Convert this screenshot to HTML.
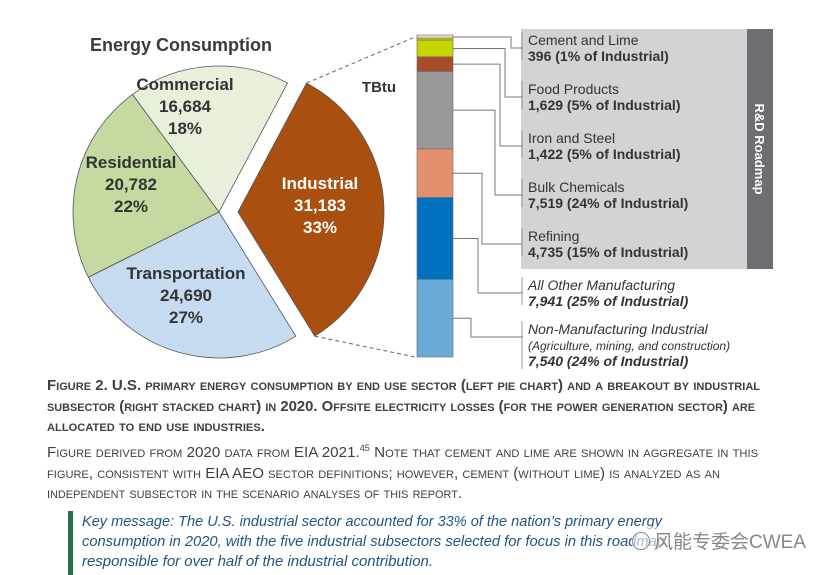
<!DOCTYPE html>
<html><head><meta charset="utf-8"><style>
html,body{margin:0;padding:0;background:#fff;width:834px;height:575px;overflow:hidden}
body{position:relative;font-family:"Liberation Sans",Arial,sans-serif}
.sc{font-variant:small-caps}
</style></head><body>
<svg id="chart" width="834" height="375" style="position:absolute;left:0;top:0" font-family="Liberation Sans, Arial, sans-serif"></svg>
<svg width="834" height="200" style="position:absolute;left:0;top:375px" font-family="Liberation Sans, Arial, sans-serif">
<g fill="#404040" font-size="15" font-weight="bold" class="sc">
<text x="47" y="15" textLength="713" lengthAdjust="spacingAndGlyphs">Figure 2. U.S. primary energy consumption by end use sector (left pie chart) and a breakout by industrial</text>
<text x="47" y="36" textLength="708" lengthAdjust="spacingAndGlyphs">subsector (right stacked chart) in 2020. Offsite electricity losses (for the power generation sector) are</text>
<text x="47" y="56" textLength="218" lengthAdjust="spacingAndGlyphs">allocated to end use industries.</text>
</g>
<g fill="#404040" font-size="15" class="sc">
<text x="47" y="82" textLength="711" lengthAdjust="spacingAndGlyphs">Figure derived from 2020 data from EIA 2021.<tspan font-size="9" dy="-6">45</tspan><tspan dy="6"> Note that cement and lime are shown in aggregate in this</tspan></text>
<text x="47" y="103" textLength="673" lengthAdjust="spacingAndGlyphs">figure, consistent with EIA AEO sector definitions; however, cement (without lime) is analyzed as an</text>
<text x="47" y="123" textLength="415" lengthAdjust="spacingAndGlyphs">independent subsector in the scenario analyses of this report.</text>
</g>
<rect x="68" y="136" width="5" height="64" fill="#2e6b46"/>
<g fill="#1f5585" font-size="15" font-style="italic">
<text x="82" y="151" textLength="580" lengthAdjust="spacingAndGlyphs">Key message: The U.S. industrial sector accounted for 33% of the nation’s primary energy</text>
<text x="82" y="171" textLength="583" lengthAdjust="spacingAndGlyphs">consumption in 2020, with the five industrial subsectors selected for focus in this roadmap</text>
<text x="82" y="191" textLength="351" lengthAdjust="spacingAndGlyphs">responsible for over half of the industrial contribution.</text>
</g>
</svg>
<div style="position:absolute;left:632px;top:527px;font-family:'Liberation Sans','Noto Sans CJK SC',sans-serif;font-size:19px;color:#888;background:rgba(255,255,255,0.6)"><span style="display:inline-block;width:16px;height:16px;border:1.5px solid #888;border-radius:50%;vertical-align:-2px;margin-right:4px"></span>风能专委会CWEA</div>
<script>
const sectors=["Commercial","Residential","Transportation","Industrial"];
const sectorValues=[16684,20782,24690,31183];
const sectorPct=["18%","22%","27%","33%"];
const subsectors=["Cement and Lime","Food Products","Iron and Steel","Bulk Chemicals","Refining","All Other Manufacturing","Non-Manufacturing Industrial"];
const subValues=[396,1629,1422,7519,4735,7941,7540];
const subPct=["1%","5%","5%","24%","15%","25%","24%"];
const NS="http://www.w3.org/2000/svg";
const svg=document.getElementById('chart');
function mk(t,a,p){const e=document.createElementNS(NS,t);for(const k in a)e.setAttribute(k,a[k]);(p||svg).appendChild(e);return e;}
function fmt(v){return v.toLocaleString('en-US');}
const t0=mk('text',{x:181,y:51,'text-anchor':'middle','font-size':18,'font-weight':'bold',fill:'#3a3a3a'});t0.textContent='Energy Consumption';

const t1=mk('text',{x:379,y:92,'text-anchor':'middle','font-size':15,'font-weight':'bold',fill:'#333'});t1.textContent='TBtu';

const cx=219,cy=212,R=146;
const total=sectorValues.reduce((a,b)=>a+b,0);
const fills=['#e8f0dc','#c5d9a0','#c6daf0','#a94f10'];
const order=[3,2,1,0];
let ang=-62*Math.PI/180;
const lblPos={};
order.forEach(i=>{
  const a0=ang,a1=ang+sectorValues[i]/total*2*Math.PI;ang=a1;
  const off=i===3?19:0;
  const ox=cx+off, oy=cy;
  const x0=ox+R*Math.cos(a0),y0=oy+R*Math.sin(a0),x1=ox+R*Math.cos(a1),y1=oy+R*Math.sin(a1);
  const large=(a1-a0)>Math.PI?1:0;
  const p=mk('path',{d:`M${ox},${oy}L${x0},${y0}A${R},${R} 0 ${large} 1 ${x1},${y1}Z`,fill:fills[i],stroke:'#555','stroke-width':0.8});
  
  
  lblPos[i]={x0,y0,x1,y1};
});
const lblAdj={0:[185,90],1:[131,168],2:[186,279],3:[320,189]};
sectors.forEach((s,i)=>{
  const [lx,ly]=lblAdj[i];
  const g=mk('text',{x:lx,y:ly,'text-anchor':'middle','font-size':17,'font-weight':'bold',fill:i===3?'#fff':'#333'});
  
  
  [s,fmt(sectorValues[i]),sectorPct[i]].forEach((tx,k)=>{const ts=mk('tspan',{x:lx,dy:k?22:0},g);ts.textContent=tx;});
});
const bx=417,bw=36,bTop=36,bH=321;
const subTotal=subValues.reduce((a,b)=>a+b,0);
const ys=v=>v/subTotal*bH;
const ind=lblPos[3];
const d1=mk('path',{d:`M${ind.x0},${ind.y0}L${bx-2},${bTop+1}`,stroke:'#666','stroke-dasharray':'4,3',fill:'none'});

const d2=mk('path',{d:`M${ind.x1},${ind.y1}L${bx-2},${bTop+bH}`,stroke:'#666','stroke-dasharray':'4,3',fill:'none'});

const gb=mk('rect',{x:521,y:29,width:230,height:240,fill:'#d3d3d5'});

const ds=mk('rect',{x:747,y:29,width:26,height:240,fill:'#6d6e71'});

const rt=mk('text',{x:0,y:0,'font-size':13,'font-weight':'bold',fill:'#fff','text-anchor':'middle',transform:'translate(755,149) rotate(90)'});
rt.textContent='R&D Roadmap';
const colors=['#c6d500','#c6d500','#a84d2a','#999999','#e49070','#0070c0','#6aaad8'];
const connX=[511,505,500,495,482,478,471];
const labelY=[40,89,138,187,236,285,329];
let acc=0;
subValues.forEach((v,i)=>{
  const y=bTop+ys(acc),h=ys(v);acc+=v;
  const r=mk('rect',{x:bx,y:y,width:bw,height:h,fill:colors[i],stroke:'#666','stroke-width':0.6});
  
  
  if(i===0){const b=mk('rect',{x:bx,y:y-1,width:bw,height:3,fill:'#f1d9c6',stroke:'#666','stroke-width':0.6});}
  const my=i===0?y+1:(h>40?y+h/2:y+Math.min(h/2,12));
  const ly=labelY[i]+8;
  const c=mk('path',{d:`M${bx+bw},${my}H${connX[i]}V${ly}H${523}`,stroke:'#777','stroke-width':1,fill:'none'});
  
  const tk=mk('line',{x1:522,y1:labelY[i]-8,x2:522,y2:labelY[i]+(i===6?40:20),stroke:'#999','stroke-width':1});
  
  const it=i>=5;
  const g=mk('text',{x:528,y:labelY[i]+5,'font-size':14,fill:'#333','font-style':it?'italic':'normal'});
  
  const a=mk('tspan',{x:528,dy:0},g);a.textContent=subsectors[i];
  if(i===6){const s=mk('tspan',{x:528,dy:16,'font-size':12},g);s.textContent='(Agriculture, mining, and construction)';}
  const b=mk('tspan',{x:528,dy:16,'font-weight':'bold'},g);b.textContent=fmt(v)+' ('+subPct[i]+' of Industrial)';
});
</script>
</body></html>
